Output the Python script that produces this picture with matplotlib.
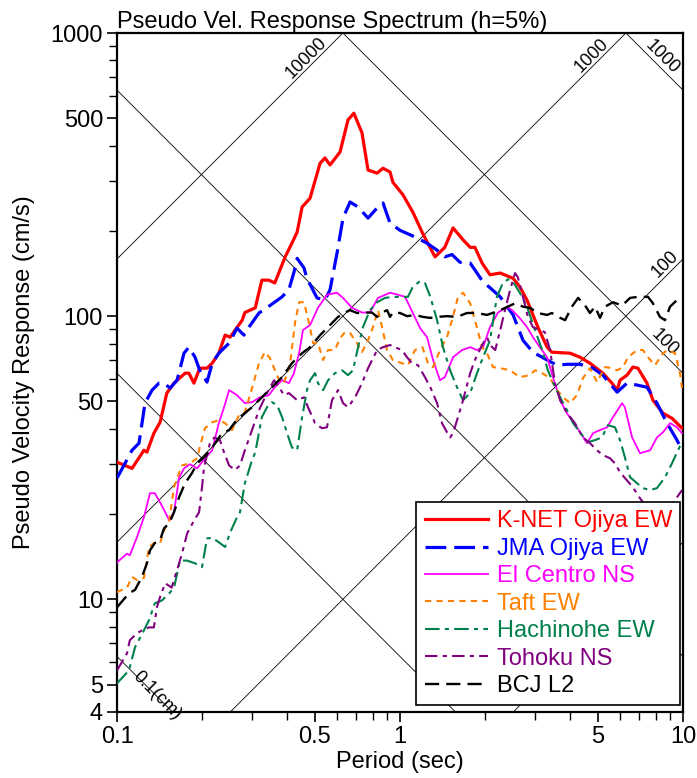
import numpy as np
import matplotlib
matplotlib.use("Agg")
import matplotlib.pyplot as plt
from matplotlib.ticker import FixedLocator, NullFormatter, FixedFormatter

plt.rcParams['font.family'] = ['Liberation Sans', 'DejaVu Sans']

# ---------------- data (period [s], pseudo velocity [cm/s]) ----------------
knet_T = [0.1,0.113,0.1245,0.1276,0.135,0.142,0.150,0.159,0.174,0.1795,0.187,0.196,0.208,0.217,0.229,0.241,0.251,0.277,0.283,0.308,0.325,0.344,0.361,0.393,0.415,0.433,0.451,0.481,0.522,0.543,0.566,0.614,0.655,0.687,0.734,0.771,0.830,0.871,0.922,0.944,1.025,1.11,1.20,1.28,1.33,1.44,1.54,1.67,1.77,1.84,1.95,2.08,2.26,2.51,2.65,2.81,3.07,3.31,3.44,3.99,4.33,4.69,5.21,5.61,5.85,5.99,6.34,6.65,6.93,7.46,7.83,8.50,9.14,9.92]
knet_V = [30.5,29.0,33.6,33.1,38.6,42.2,53.5,58.0,62.9,62.9,58.0,65.5,65.5,68.2,74.0,85.7,84.3,96.8,103,107,134,134,131,162,181,198,243,261,347,362,342,380,493,521,444,328,320,333,323,297,268,233,197,174,162,175,205,186,175,175,154,140,142,136,127,114,91.5,77.7,74.6,74.0,71.6,68.2,62.9,58.0,54.8,59.4,61.9,66.1,65.5,58.0,50.5,45.4,43.6,40.2]

jma_T = [0.1,0.1067,0.113,0.1196,0.1256,0.133,0.1407,0.1466,0.154,0.163,0.1725,0.1795,0.1887,0.196,0.208,0.217,0.229,0.249,0.2655,0.281,0.2926,0.3175,0.347,0.383,0.405,0.422,0.433,0.458,0.469,0.509,0.543,0.566,0.599,0.629,0.666,0.711,0.771,0.830,0.871,0.922,1.0,1.148,1.246,1.352,1.44,1.527,1.629,1.77,1.871,1.965,2.08,2.26,2.51,2.72,2.95,3.31,3.59,3.89,4.33,4.81,5.21,5.85,6.34,6.88,7.46,8.09,8.78,9.52,9.92]
jma_V = [26.8,30.2,33.6,35.6,49.3,54.8,58.0,58.0,55.7,59.4,74.0,77.7,71.6,64.4,58.5,68.2,74.0,80.3,90.7,85.7,91.5,102.6,109,117,124,143,160,148,136,116,114,124,167,222,253,243,222,241,251,213,201,189,181,171,162,165,155,154,142,132,126,117,101,82.2,74.6,70.0,67.1,67.6,67.6,65.5,61.9,53.9,58.0,57.1,56.1,49.3,41.9,36.5,33.6]

elc_T = [0.1,0.1085,0.111,0.1177,0.1245,0.1308,0.136,0.142,0.148,0.153,0.159,0.1656,0.1725,0.181,0.192,0.2046,0.217,0.229,0.239,0.249,0.2655,0.283,0.300,0.320,0.344,0.361,0.383,0.405,0.422,0.440,0.454,0.481,0.513,0.552,0.599,0.629,0.677,0.734,0.783,0.836,0.922,0.984,1.042,1.11,1.178,1.246,1.309,1.384,1.44,1.54,1.656,1.77,1.871,1.965,2.08,2.22,2.39,2.49,2.65,2.81,2.95,3.12,3.31,3.47,3.68,3.89,4.22,4.58,4.81,5.09,5.39,5.66,6.09,6.23,6.61,7.05,7.65,8.09,8.50,9.0,9.52,9.92]
elc_V = [13.5,14.5,14.3,16.6,19.5,23.7,23.7,22.0,20.3,19.0,20.3,26.8,29.0,30.0,29.0,31.5,33.6,41.9,47.7,54.8,52.6,49.3,49.7,51.7,52.6,56.1,59.4,58.0,62.9,74.0,89.3,93.0,107,119,121,116,107,103,103,116,121,119,117,102.6,90.7,84.3,70.0,59.4,60.9,71.6,75.9,77.7,75.9,77.7,91.5,103,108,105,98.4,91.5,84.3,77.7,71.6,60.9,50.5,45.4,40.5,35.6,38.6,39.6,40.5,44.0,49.3,47.7,37.3,32.8,33.6,37.3,38.9,41.9,40.5,38.6]

taft_T = [0.1,0.1085,0.113,0.1177,0.1245,0.1297,0.135,0.142,0.1466,0.153,0.159,0.1656,0.1697,0.181,0.192,0.196,0.2046,0.217,0.229,0.241,0.255,0.270,0.283,0.300,0.3175,0.333,0.347,0.374,0.389,0.409,0.426,0.440,0.458,0.477,0.493,0.513,0.535,0.557,0.589,0.614,0.639,0.666,0.705,0.734,0.771,0.803,0.836,0.864,0.900,0.944,1.016,1.067,1.129,1.20,1.256,1.309,1.384,1.466,1.527,1.603,1.67,1.77,1.84,1.95,2.03,2.13,2.26,2.45,2.65,2.88,3.0,3.18,3.39,3.59,3.77,3.99,4.22,4.43,4.69,4.97,5.30,5.61,5.85,6.14,6.39,6.88,7.22,7.52,7.96,8.50,8.85,9.37,9.76,9.92]
taft_V = [10.6,11.0,12.0,11.7,11.9,15.3,15.8,15.8,17.5,19.0,24.9,27.9,29.7,30.2,31.5,34.4,40.2,42.2,42.9,41.9,39.6,44.7,45.8,55.7,68.2,74.6,71.1,59.4,58.0,68.2,95.2,112,112,94.5,80.3,80.3,70.0,75.9,75.9,83.6,87.8,87.2,80.3,74.6,82.2,91.5,105,91.5,75.9,70.0,68.2,67.1,75.9,77.7,68.2,66.1,75.9,84.3,96.8,117,121,111,96.8,77.7,74.0,66.1,65.5,64.4,60.9,61.9,64.4,62.9,60.4,54.8,51.7,49.3,52.6,60.4,65.5,58.5,66.1,65.5,64.4,66.1,71.6,75.9,75.9,71.6,67.1,74.0,75.9,74.0,62.9,55.7]

hach_T = [0.1,0.1102,0.1158,0.1245,0.1297,0.136,0.1442,0.153,0.159,0.167,0.177,0.1887,0.1997,0.208,0.217,0.229,0.241,0.251,0.2655,0.272,0.283,0.300,0.308,0.325,0.339,0.353,0.368,0.383,0.399,0.415,0.433,0.451,0.469,0.481,0.501,0.513,0.535,0.557,0.589,0.624,0.655,0.682,0.711,0.740,0.783,0.830,0.885,0.944,1.016,1.067,1.11,1.178,1.225,1.28,1.352,1.419,1.503,1.590,1.67,1.77,1.871,1.965,2.08,2.20,2.31,2.41,2.51,2.65,2.81,3.0,3.18,3.33,3.47,3.68,3.89,4.09,4.40,4.62,4.89,5.17,5.43,5.75,5.99,6.23,6.50,6.88,7.22,7.65,8.09,8.64,9.14,9.60,9.92]
hach_V = [5.05,5.61,6.77,7.77,8.43,9.68,9.91,10.5,11.0,13.7,13.7,13.4,13.0,16.4,16.5,15.9,15.3,17.2,19.5,20.3,25.7,31.0,33.0,44.0,47.7,49.7,48.5,44.0,38.6,34.4,33.6,44.0,54.8,59.4,62.9,58.0,54.8,59.4,62.9,64.4,61.9,64.4,77.7,91.5,105,112,116,117,117,117,127,133,131,117,96.8,77.7,64.4,56.1,50.5,53.5,62.9,71.6,82.2,117,131,135,132,121,108,89.3,75.9,64.4,58.5,51.7,46.6,41.9,38.0,35.9,36.5,37.3,41.2,40.5,36.5,31.8,27.0,25.7,24.7,24.3,24.7,27.0,30.2,33.6,35.9]

toh_T = [0.1,0.1085,0.111,0.1177,0.1225,0.1297,0.135,0.1384,0.142,0.148,0.156,0.163,0.1697,0.177,0.1873,0.195,0.1997,0.203,0.213,0.221,0.231,0.239,0.249,0.261,0.272,0.283,0.300,0.3175,0.339,0.359,0.374,0.389,0.405,0.433,0.458,0.473,0.501,0.530,0.552,0.575,0.604,0.629,0.655,0.694,0.734,0.771,0.830,0.871,0.922,0.959,1.016,1.059,1.102,1.158,1.225,1.28,1.352,1.407,1.466,1.503,1.54,1.603,1.67,1.77,1.84,1.95,2.03,2.08,2.17,2.26,2.35,2.45,2.55,2.61,2.72,2.83,2.95,3.12,3.25,3.39,3.53,3.68,3.89,4.15,4.43,4.69,4.97,5.21,5.52,5.75,5.99,6.34,6.65,6.93,7.34,7.96,8.64,9.37,9.92]
toh_V = [5.61,6.45,7.17,7.59,7.77,7.96,7.96,9.37,10.2,11.4,11.0,12.7,14.5,17.1,19.0,20.3,24.9,29.3,35.6,37.3,36.5,33.0,29.7,28.6,29.7,33.6,39.6,46.6,53.5,59.4,56.1,52.6,53.5,50.5,51.7,47.7,41.9,40.2,40.5,50.5,54.8,49.3,47.7,51.7,58.0,65.5,75.9,77.7,79.1,77.7,75.9,71.6,68.2,67.1,60.9,56.1,49.3,41.9,38.9,37.3,38.6,44.0,50.5,62.9,70.0,79.1,84.3,79.1,75.9,89.3,105,124,142,137,117,99.4,91.5,89.3,87.8,75.9,58.0,50.5,45.4,41.9,37.3,35.6,33.6,32.3,31.5,30.2,28.1,26.3,24.9,23.3,21.5,19.8,20.3,22.4,24.3]

bcj_T = [0.1,0.1102,0.1158,0.1225,0.1276,0.1308,0.136,0.142,0.1466,0.153,0.159,0.1656,0.174,0.184,0.192,0.203,0.217,0.235,0.249,0.261,0.277,0.300,0.325,0.353,0.383,0.415,0.451,0.481,0.522,0.566,0.604,0.639,0.666,0.705,0.734,0.796,0.830,0.864,0.900,0.922,0.944,1.0,1.059,1.129,1.205,1.28,1.352,1.466,1.590,1.725,1.871,2.03,2.26,2.45,2.55,2.72,2.88,3.07,3.31,3.44,3.62,3.83,4.05,4.26,4.51,4.69,4.89,5.09,5.30,5.66,6.09,6.50,6.93,7.52,7.83,8.29,8.64,9.0,9.52,9.92]
bcj_V = [9.37,10.5,10.8,12.0,13.4,14.9,15.8,16.2,17.8,18.6,20.3,22.9,25.7,27.9,30.2,31.8,34.4,38.6,39.6,42.2,44.7,47.7,51.7,56.1,60.9,68.2,74.0,77.7,85.7,93.0,99.4,103,105,102.6,103,103,99.4,103,105,99.4,103,102.6,100,101,99.4,98.6,99.4,100,99.4,102.6,102.6,101,105,109,111,108,107,102.6,101,102.6,99.4,96.8,108,116,109,102.6,108,98.6,108,112,109,116,117,117,111,99.4,96.8,108,114,116]

series_labels = ["K-NET Ojiya EW", "JMA Ojiya EW", "El Centro NS", "Taft EW",
                 "Hachinohe EW", "Tohoku NS", "BCJ L2"]

# tripartite guide values
disp_levels = [0.1, 1, 10, 100, 1000]        # cm
acc_levels = [10, 100, 1000, 10000]          # cm/s^2

x_ticks = [0.1, 0.5, 1, 5, 10]
x_ticklabels = ["0.1", "0.5", "1", "5", "10"]
y_ticks = [4, 5, 10, 50, 100, 500, 1000]
y_ticklabels = ["4", "5", "10", "50", "100", "500", "1000"]

# ---------------- figure ----------------
fig = plt.figure(figsize=(6.97, 7.78), dpi=100)
ax = fig.add_axes([117/697, 1-712/778, (683-117)/697, (712-33)/778])
ax.set_xscale('log')
ax.set_yscale('log')
ax.set_xlim(0.1, 10)
ax.set_ylim(4, 1000)

# tripartite grid
Tg = np.logspace(-1.2, 1.2, 50)
for d in disp_levels:
    ax.plot(Tg, 2*np.pi*d/Tg, color='black', lw=0.6, zorder=1)
for a in acc_levels:
    ax.plot(Tg, a*Tg/(2*np.pi), color='black', lw=0.6, zorder=1)

lab_fs = 13
def acc_label(a, T, txt):
    ax.text(T, a*T/(2*np.pi), txt, rotation=45, rotation_mode='anchor',
            ha='center', va='bottom', fontsize=lab_fs, zorder=2)
def disp_label(d, T, txt, va='bottom'):
    ax.text(T, 2*np.pi*d/T, txt, rotation=-45, rotation_mode='anchor',
            ha='center', va=va, fontsize=lab_fs, zorder=2)

acc_label(10000, 0.49, "10000")
acc_label(1000, 5.0, "1000")
disp_label(1000, 8.0, "1000")
acc_label(100, 9.1, "100")
disp_label(100, 8.2, "100")
disp_label(0.1, 0.138, "0.1(cm)", va='center')

styles = [
    dict(color='#FF0000', lw=2.3, ls='-'),
    dict(color='#0000FF', lw=2.3, ls=(0, (6.5, 2.5))),
    dict(color='#FF00FF', lw=1.3, ls='-'),
    dict(color='#FF8000', lw=1.5, ls=(0, (3, 2.5))),
    dict(color='#00804A', lw=1.5, ls=(0, (7, 2.5, 2, 2.5))),
    dict(color='#800080', lw=1.5, ls=(0, (6, 2.5, 2, 2.5))),
    dict(color='#000000', lw=1.7, ls=(0, (6, 3))),
]
data = [(knet_T, knet_V), (jma_T, jma_V), (elc_T, elc_V), (taft_T, taft_V),
        (hach_T, hach_V), (toh_T, toh_V), (bcj_T, bcj_V)]
handles = []
for (T, V), st, lab in zip(data, styles, series_labels):
    h, = ax.plot(T, V, label=lab, zorder=3, **st)
    handles.append(h)

# axes styling
for sp in ax.spines.values():
    sp.set_linewidth(1.6)
ax.xaxis.set_major_locator(FixedLocator(x_ticks))
ax.xaxis.set_major_formatter(FixedFormatter(x_ticklabels))
ax.xaxis.set_minor_locator(FixedLocator([0.2,0.3,0.4,0.6,0.7,0.8,0.9,2,3,4,6,7,8,9]))
ax.xaxis.set_minor_formatter(NullFormatter())
ax.yaxis.set_major_locator(FixedLocator(y_ticks))
ax.yaxis.set_major_formatter(FixedFormatter(y_ticklabels))
ax.yaxis.set_minor_locator(FixedLocator([6,7,8,9,20,30,40,60,70,80,90,200,300,400,600,700,800,900]))
ax.yaxis.set_minor_formatter(NullFormatter())
ax.tick_params(which='major', direction='out', length=7, width=1.2, labelsize=17, pad=3)
ax.tick_params(which='minor', direction='out', length=6, width=1.0)

ax.set_xlabel("Period (sec)", fontsize=17, labelpad=2)
ax.set_ylabel("Pseudo Velocity Response (cm/s)", fontsize=17, labelpad=11)
ax.set_title("Pseudo Vel. Response Spectrum (h=5%)", loc='left', fontsize=17, pad=1)

leg = ax.legend(handles=handles, loc='lower right', bbox_to_anchor=(0.995, 0.01),
                fontsize=17, frameon=True, fancybox=False, framealpha=1,
                edgecolor='black', handlelength=2.7, handletextpad=0.35,
                labelspacing=0.23, borderpad=0.35, borderaxespad=0)
leg.get_frame().set_linewidth(1.2)
leg.set_zorder(5)
for txt, st in zip(leg.get_texts(), styles):
    txt.set_color(st['color'])

fig.savefig("out.png", dpi=100)
